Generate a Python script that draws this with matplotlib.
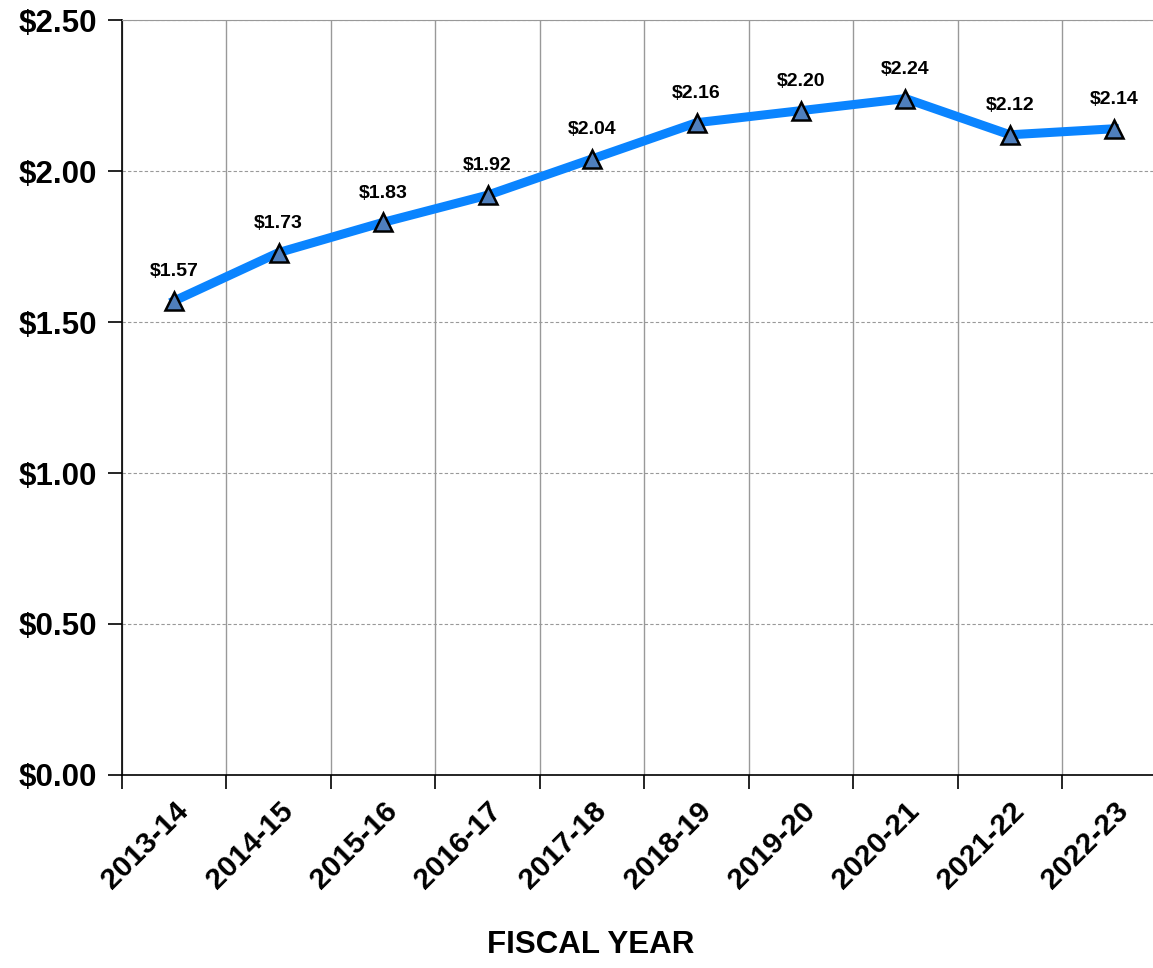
import matplotlib.pyplot as plt
from matplotlib.ticker import FixedLocator, FuncFormatter

years = ['2013-14', '2014-15', '2015-16', '2016-17', '2017-18',
         '2018-19', '2019-20', '2020-21', '2021-22', '2022-23']
values = [1.57, 1.73, 1.83, 1.92, 2.04, 2.16, 2.20, 2.24, 2.12, 2.14]
y_ticks = [0.0, 0.5, 1.0, 1.5, 2.0, 2.5]

plt.rcParams['font.family'] = ['Liberation Sans', 'DejaVu Sans']
plt.rcParams['font.weight'] = 'bold'

fig = plt.figure(figsize=(11.53, 9.68), dpi=100)
ax = fig.add_axes([0.1058, 0.1994, 0.8942, 0.7799])

x = list(range(len(years)))
ax.plot(x, values, color='#0A84FF', linewidth=6.5, zorder=3,
        marker='^', markersize=13, markerfacecolor='#4F7FBD',
        markeredgecolor='black', markeredgewidth=1.8)

for xi, v in zip(x, values):
    ax.annotate(f'${v:.2f}', (xi, v), xytext=(0, 15), textcoords='offset points',
                ha='center', va='bottom', fontsize=14, fontweight='bold')

ax.set_xlim(-0.5, 9.37)
ax.set_ylim(0, 2.5)

ax.set_xticks(x)
ax.set_xticklabels(years, rotation=45, ha='right', rotation_mode='anchor',
                   fontsize=21.5, fontweight='bold')
ax.xaxis.set_minor_locator(FixedLocator([i - 0.5 for i in range(len(years) + 1)]))
ax.tick_params(axis='x', which='major', length=0, pad=16)
ax.tick_params(axis='x', which='minor', length=10, width=1.2, direction='out', color='black')
ax.grid(axis='x', which='minor', color='#999999', linewidth=1)

ax.set_yticks(y_ticks)
ax.yaxis.set_major_formatter(FuncFormatter(lambda v, p: f'${v:.2f}'))
ax.tick_params(axis='y', length=10, width=1.2, direction='out', pad=8, labelsize=22.5)
for lab in ax.get_yticklabels():
    lab.set_fontweight('bold')
ax.grid(axis='y', which='major', color='#999999', linewidth=0.8, linestyle=(0, (3, 2)))

ax.spines['right'].set_visible(False)
ax.spines['top'].set_color('#999999')
ax.spines['left'].set_linewidth(1.2)
ax.spines['bottom'].set_linewidth(1.2)
ax.set_axisbelow(True)

fig.text(0.512, 0.024, 'FISCAL YEAR', ha='center', va='center',
         fontsize=22.5, fontweight='bold')

fig.savefig('out.png', dpi=100)
